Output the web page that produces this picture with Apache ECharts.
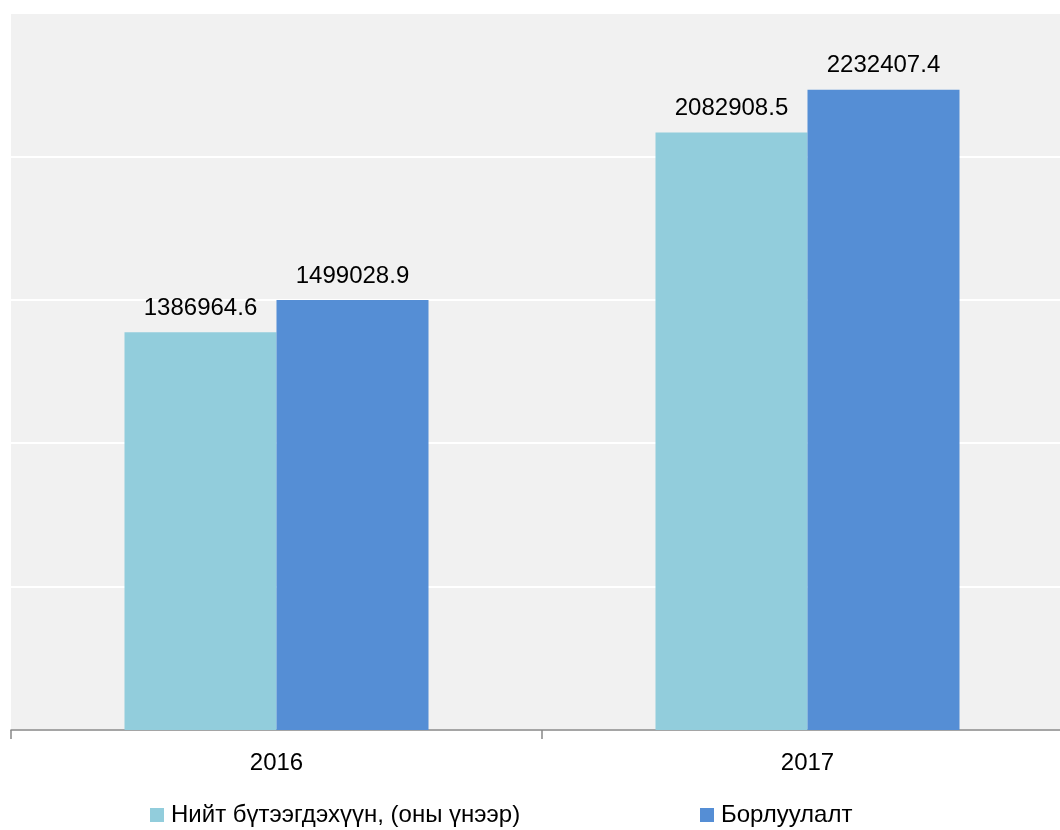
<!DOCTYPE html>
<html>
<head>
<meta charset="utf-8">
<script src="https://cdn.jsdelivr.net/npm/echarts@6/dist/echarts.min.js"></script>
<style>
  html, body { margin: 0; padding: 0; background: #fff; }
  #chart { width: 1060px; height: 830px; }
</style>
</head>
<body>
<div id="chart"></div>
<script>
// categories and series values
var years = ['2016', '2017'];
var seriesNames = ['Нийт бүтээгдэхүүн, (оны үнээр)', 'Борлуулалт'];
var production = [1386964.6, 2082908.5];
var sales = [1499028.9, 2232407.4];
var colors = ['#92CDDC', '#558ED5'];

var myChart = echarts.init(document.getElementById('chart'));

var fontFam = 'Liberation Sans, Arial, sans-serif';

var labelStyle = {
  show: true,
  position: 'top',
  distance: 12,
  color: '#000',
  fontSize: 24,
  fontFamily: fontFam
};

// две отдельные легенды, чтобы поставить их точно как в оригинале
function legendAt(name, left) {
  return {
    data: [name],
    top: 798,
    left: left,
    itemWidth: 14,
    itemHeight: 14,
    icon: 'rect',
    textStyle: { color: '#000', fontSize: 24, fontFamily: fontFam, padding: [0, 0, 0, 2] }
  };
}

var option = {
  color: colors,
  animation: false,
  textStyle: { fontFamily: fontFam },
  grid: { left: 11, width: 1062, top: 13, bottom: 100, containLabel: false,
          outerBoundsMode: 'none',
          show: true, backgroundColor: '#F1F1F1', borderWidth: 0 },
  legend: [
    legendAt(seriesNames[0], 145),
    legendAt(seriesNames[1], 695)
  ],
  xAxis: {
    type: 'category',
    data: years,
    axisLine: { show: true, lineStyle: { color: '#888888', width: 1.5 } },
    axisTick: { show: true, length: 9, lineStyle: { color: '#888888', width: 1.5 } },
    axisLabel: { color: '#000', fontSize: 24, margin: 21 },
    splitLine: { show: false }
  },
  yAxis: {
    type: 'value',
    min: 0,
    max: 2500000,
    interval: 500000,
    axisLine: { show: false },
    axisTick: { show: false },
    axisLabel: { show: false },
    splitLine: { show: true, lineStyle: { color: '#FFFFFF', width: 2 } }
  },
  series: [
    {
      name: seriesNames[0],
      type: 'bar',
      data: production,
      barWidth: 152,
      barGap: '0%',
      label: labelStyle
    },
    {
      name: seriesNames[1],
      type: 'bar',
      data: sales,
      barWidth: 152,
      barGap: '0%',
      label: labelStyle
    }
  ]
};

myChart.setOption(option);
</script>
</body>
</html>
